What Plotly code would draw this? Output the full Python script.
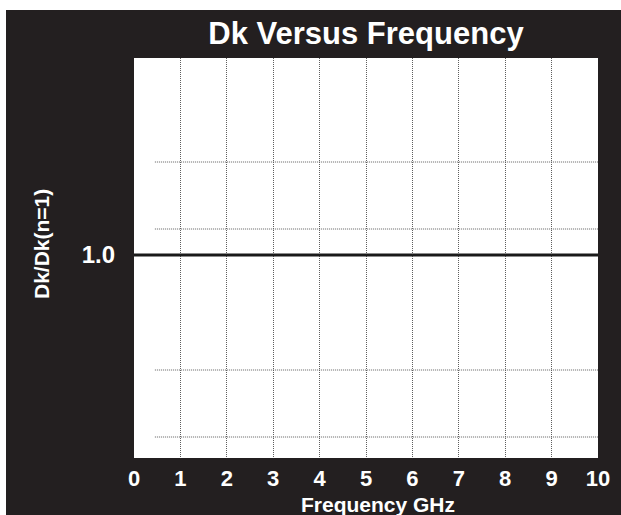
import plotly.graph_objects as go

# Data
freq_ghz = [0, 10]
dk_ratio = [1.0, 1.0]
x_ticks = [0, 1, 2, 3, 4, 5, 6, 7, 8, 9, 10]
x_tick_labels = ["0", "1", "2", "3", "4", "5", "6", "7", "8", "9", "10"]
y_ticks = [1.0]
y_tick_labels = ["1.0"]
y_grid = [1.093, 1.026, 0.885, 0.818]

BG = "#231f20"
GRID = "#5e5e5e"
FONT = "Liberation Sans, Arial, sans-serif"

fig = go.Figure()
fig.add_trace(go.Scatter(x=freq_ghz, y=dk_ratio, mode="lines",
                         line=dict(color="#1a1a1a", width=3),
                         showlegend=False, hoverinfo="skip"))

shapes = []
# white strips at page top/left
shapes.append(dict(type="rect", xref="paper", yref="paper",
                   x0=-0.4, x1=1.2, y0=(458 - 10) / 400, y1=1.3,
                   fillcolor="white", line=dict(width=0), layer="above"))
shapes.append(dict(type="rect", xref="paper", yref="paper",
                   x0=-0.4, x1=(6 - 134) / 464, y0=-0.3, y1=1.3,
                   fillcolor="white", line=dict(width=0), layer="above"))
for gy in y_grid:
    shapes.append(dict(type="line", xref="x", yref="y", x0=0.45, x1=10,
                       y0=gy, y1=gy, layer="below",
                       line=dict(color=GRID, width=1, dash="1px,1px")))

fig.update_layout(
    width=621, height=515,
    margin=dict(l=134, r=23, t=58, b=57, autoexpand=False),
    paper_bgcolor=BG, plot_bgcolor="white",
    title=dict(text="Dk Versus Frequency", x=0.5, xref="paper",
               y=1 - 33 / 515, yref="container", yanchor="middle",
               font=dict(family=FONT, size=31, color="white", weight="bold")),
    xaxis=dict(range=[0, 10], tickvals=x_ticks, ticktext=x_tick_labels,
               showgrid=True, gridcolor=GRID, griddash="1px,1px", gridwidth=1,
               zeroline=False, showline=False, ticks="",
               tickfont=dict(family=FONT, size=22, color="white", weight="bold"),
               ticklabelstandoff=5, fixedrange=True),
    yaxis=dict(range=[0.797, 1.197], tickvals=y_ticks, ticktext=y_tick_labels,
               showgrid=False, zeroline=False, showline=False, ticks="",
               tickfont=dict(family=FONT, size=24, color="white", weight="bold"),
               ticklabelstandoff=18, fixedrange=True),
    shapes=shapes,
    annotations=[
        dict(text="Frequency GHz", xref="paper", yref="paper",
             x=(378 - 134) / 464, y=(458 - 504) / 400, xanchor="center", yanchor="middle",
             showarrow=False,
             font=dict(family=FONT, size=21, color="white", weight="bold")),
        dict(text="Dk/Dk(n=1)", xref="paper", yref="paper",
             x=(41 - 134) / 464, y=(458 - 244) / 400, xanchor="center", yanchor="middle",
             textangle=-90, showarrow=False,
             font=dict(family=FONT, size=21, color="white", weight="bold")),
    ],
)

fig.write_html("out.html", config={"displayModeBar": False})

with open("out.html", "r", encoding="utf-8") as f:
    html = f.read()
html = html.replace("<head>", "<head><style>html,body{margin:0;padding:0;overflow:hidden;}</style>", 1)
with open("out.html", "w", encoding="utf-8") as f:
    f.write(html)
